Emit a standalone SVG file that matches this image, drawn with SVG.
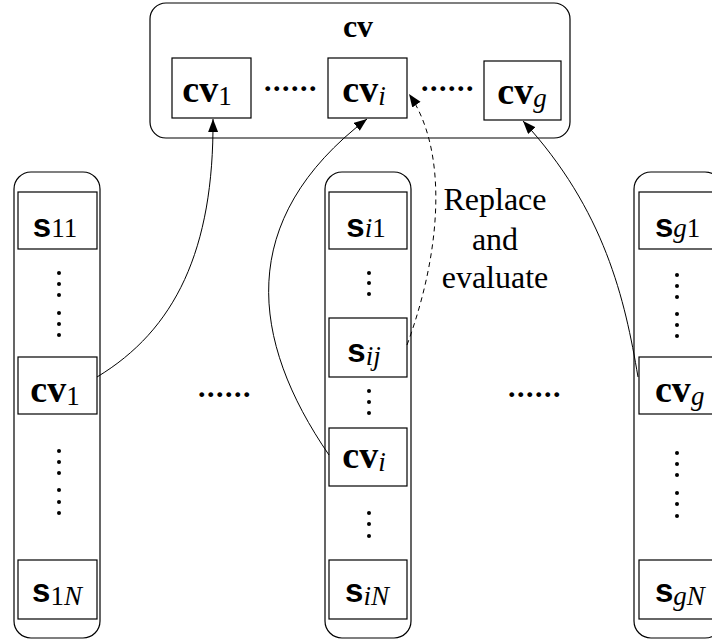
<svg xmlns="http://www.w3.org/2000/svg" width="712" height="639" viewBox="0 0 712 639">
<style>
.cont{fill:none;stroke:#000;stroke-width:1.2}
.box{fill:#fff;stroke:#000;stroke-width:1.2}
.cv{font-family:"Liberation Serif",serif;font-weight:bold;font-size:38px;fill:#000}
.s{font-family:"Liberation Sans",sans-serif;font-weight:bold;font-size:33px;fill:#000}
.sub{font-family:"Liberation Serif",serif;font-weight:normal;font-size:27px}
.it{font-style:italic}
.dots{font-family:"Liberation Serif",serif;font-weight:bold;font-size:30px;letter-spacing:1.5px;fill:#000}
.lbl{font-family:"Liberation Serif",serif;font-size:32px;fill:#000;text-anchor:middle}
.conn{fill:none;stroke:#000;stroke-width:1}
.dash{stroke-dasharray:5,4}
</style>
<defs>
<marker id="ah" markerUnits="userSpaceOnUse" markerWidth="14" markerHeight="12" refX="13" refY="5" orient="auto">
<path d="M0,0 L13,5 L0,10 z" fill="#000"/>
</marker>
</defs>

<g id="top">
<rect class="cont" x="150" y="3" width="420" height="135" rx="16"/>
<text class="cv" x="358" y="37" text-anchor="middle" style="font-size:32px">cv</text>
<text class="dots" x="264" y="91">......</text>
<text class="dots" x="421" y="91">......</text>
</g>
<g id="top-cv1">
<rect class="box" x="172" y="58" width="79" height="60"/>
<text class="cv" x="207" y="102" text-anchor="middle">cv<tspan class="sub" dy="3">1</tspan></text>
</g>
<g id="top-cvi">
<rect class="box" x="328" y="58" width="79" height="60"/>
<text class="cv" x="364" y="102" text-anchor="middle">cv<tspan class="sub it" dy="3">i</tspan></text>
</g>
<g id="top-cvg">
<rect class="box" x="484" y="61" width="77" height="59"/>
<text class="cv" x="522" y="104" text-anchor="middle">cv<tspan class="sub it" dy="3">g</tspan></text>
</g>

<g id="col1">
<rect class="cont" x="14" y="172" width="86" height="466" rx="17"/>
<rect class="box" x="18" y="192" width="79" height="57"/>
<text class="s" x="55" y="237" text-anchor="middle">s<tspan class="sub" dy="0">11</tspan></text>
<g fill="#000"><circle cx="59" cy="273" r="2"/><circle cx="59" cy="284" r="2"/><circle cx="59" cy="295" r="2"/><circle cx="59" cy="313" r="2"/><circle cx="59" cy="324" r="2"/><circle cx="59" cy="335" r="2"/></g>
<rect class="box" x="18" y="357" width="79" height="57"/>
<text class="cv" x="55" y="402" text-anchor="middle">cv<tspan class="sub" dy="3">1</tspan></text>
<g fill="#000"><circle cx="59" cy="451" r="2"/><circle cx="59" cy="462" r="2"/><circle cx="59" cy="473" r="2"/><circle cx="59" cy="490" r="2"/><circle cx="59" cy="502" r="2"/><circle cx="59" cy="513" r="2"/></g>
<rect class="box" x="18" y="560" width="79" height="59"/>
<text class="s" x="57" y="602" text-anchor="middle">s<tspan class="sub" dy="3">1</tspan><tspan class="sub it">N</tspan></text>
</g>

<g id="coli">
<rect class="cont" x="325" y="172" width="86" height="466" rx="17"/>
<rect class="box" x="329" y="192" width="78" height="57"/>
<text class="s" x="366" y="237" text-anchor="middle">s<tspan class="sub it" dy="0">i</tspan><tspan class="sub">1</tspan></text>
<g fill="#000"><circle cx="369" cy="273" r="2"/><circle cx="369" cy="283" r="2"/><circle cx="369" cy="294" r="2"/></g>
<rect class="box" x="329" y="318" width="78" height="59"/>
<text class="s" x="364" y="362" text-anchor="middle">s<tspan class="sub it" dy="3">ij</tspan></text>
<g fill="#000"><circle cx="369" cy="391" r="2"/><circle cx="369" cy="402" r="2"/><circle cx="369" cy="413" r="2"/></g>
<rect class="box" x="329" y="428" width="78" height="58"/>
<text class="cv" x="364" y="468" text-anchor="middle">cv<tspan class="sub it" dy="3">i</tspan></text>
<g fill="#000"><circle cx="369" cy="513" r="2"/><circle cx="369" cy="524" r="2"/><circle cx="369" cy="536" r="2"/></g>
<rect class="box" x="329" y="560" width="78" height="59"/>
<text class="s" x="367" y="602" text-anchor="middle">s<tspan class="sub it" dy="3">iN</tspan></text>
</g>

<g id="colg">
<rect class="cont" x="634" y="172" width="88" height="466" rx="17"/>
<rect class="box" x="639" y="192" width="79" height="57"/>
<text class="s" x="655" y="237">s<tspan class="sub it" dy="0">g</tspan><tspan class="sub">1</tspan></text>
<g fill="#000"><circle cx="677" cy="275" r="2"/><circle cx="677" cy="286" r="2"/><circle cx="677" cy="297" r="2"/><circle cx="677" cy="314" r="2"/><circle cx="677" cy="325" r="2"/><circle cx="677" cy="336" r="2"/></g>
<rect class="box" x="639" y="357" width="79" height="57"/>
<text class="cv" x="655" y="402">cv<tspan class="sub it" dy="3">g</tspan></text>
<g fill="#000"><circle cx="677" cy="453" r="2"/><circle cx="677" cy="464" r="2"/><circle cx="677" cy="475" r="2"/><circle cx="677" cy="493" r="2"/><circle cx="677" cy="504" r="2"/><circle cx="677" cy="516" r="2"/></g>
<rect class="box" x="639" y="560" width="79" height="59"/>
<text class="s" x="655" y="602">s<tspan class="sub it" dy="3">gN</tspan></text>
</g>

<g id="mid-dots">
<text class="dots" x="198" y="397">......</text>
<text class="dots" x="508" y="397">......</text>
</g>

<g id="label">
<text class="lbl" x="495" y="210">Replace</text>
<text class="lbl" x="495" y="250">and</text>
<text class="lbl" x="495" y="288">evaluate</text>
</g>

<g id="connectors">
<path class="conn" d="M97,377 C175,330 214,250 213,119" marker-end="url(#ah)"/>
<path class="conn" d="M329,455 C250,340 235,220 367,119" marker-end="url(#ah)"/>
<path class="conn dash" d="M407,345 C442,250 448,150 409,94" marker-end="url(#ah)"/>
<path class="conn" d="M638,377 C625,300 605,210 523,121" marker-end="url(#ah)"/>
</g>
</svg>
